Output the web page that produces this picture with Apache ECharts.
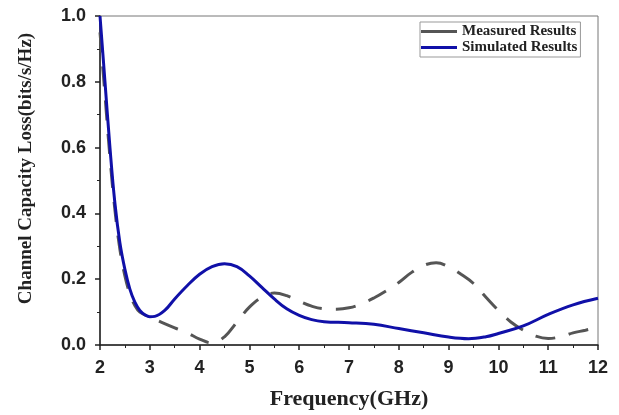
<!DOCTYPE html>
<html><head><meta charset="utf-8">
<script src="https://cdn.jsdelivr.net/npm/echarts@6/dist/echarts.min.js"></script>
<style>html,body{margin:0;padding:0;background:#fff}#c{width:619px;height:415px}</style>
</head><body><div id="c"></div>
<script>
const simFreq = [2.0,2.1,2.2,2.3,2.4,2.5,2.6,2.7,2.8,2.9,3.0,3.1,3.3,3.5,3.75,4.0,4.25,4.5,4.75,5.0,5.25,5.5,5.75,6.0,6.25,6.5,7.0,7.5,8.0,8.5,9.0,9.4,9.75,10.0,10.5,11.0,11.5,12.0];
const simVals = [1.0,0.80,0.60,0.43,0.31,0.23,0.17,0.13,0.105,0.092,0.086,0.087,0.105,0.14,0.18,0.215,0.238,0.247,0.238,0.21,0.175,0.14,0.11,0.09,0.077,0.071,0.068,0.063,0.05,0.037,0.024,0.019,0.025,0.035,0.058,0.093,0.122,0.142];
const measFreq = [2.0,2.1,2.2,2.3,2.4,2.5,2.6,2.7,2.8,3.0,3.25,3.5,3.75,4.0,4.25,4.5,4.75,5.0,5.25,5.5,5.75,6.0,6.25,6.5,6.75,7.0,7.25,7.5,7.75,8.0,8.25,8.5,8.75,9.0,9.25,9.5,9.75,10.0,10.25,10.5,10.75,11.0,11.25,11.5,11.75,12.0];
const measVals = [0.95,0.76,0.57,0.41,0.29,0.21,0.155,0.12,0.1,0.085,0.068,0.052,0.037,0.018,0.006,0.025,0.07,0.115,0.145,0.158,0.15,0.133,0.118,0.11,0.109,0.113,0.125,0.143,0.165,0.19,0.22,0.242,0.25,0.238,0.215,0.187,0.145,0.105,0.07,0.045,0.027,0.02,0.025,0.037,0.045,0.055];
const seriesNames = ['Measured Results','Simulated Results'];
const xTitle = 'Frequency(GHz)';
const yTitle = 'Channel Capacity Loss(bits/s/Hz)';

const zip = (a,b) => a.map((v,i)=>[v,b[i]]);
const chart = echarts.init(document.getElementById('c'));
const labelFont = {fontFamily:'Liberation Sans, Arial, sans-serif', fontWeight:'bold', fontSize:18, color:'#222'};
const serif = 'Liberation Serif, Times New Roman, serif';
chart.setOption({
  animation:false,
  grid:{left:100,right:21,top:16,bottom:66,show:true,borderColor:'#777',borderWidth:1},
  legend:{
    data:seriesNames,
    icon:'rect',
    orient:'vertical', left:420, top:22,
    itemWidth:36, itemHeight:3, itemGap:1,
    itemStyle:{borderWidth:0},
    lineStyle:{type:[100,0], width:3},
    borderColor:'#999', borderWidth:1, padding:[2,3,2,1],
    textStyle:{fontFamily:serif, fontWeight:'bold', fontSize:15, color:'#222'}
  },
  xAxis:{
    type:'value', min:2, max:12, interval:1,
    name:xTitle, nameLocation:'middle', nameGap:43,
    nameTextStyle:{fontFamily:serif, fontWeight:'bold', fontSize:22, color:'#222'},
    axisLine:{show:true,lineStyle:{color:'#222',width:1.5}},
    axisTick:{show:true,inside:false,length:5,lineStyle:{color:'#222',width:1.5}},
    minorTick:{show:true,splitNumber:2,length:3,lineStyle:{color:'#222',width:1}},
    axisLabel:{...labelFont, margin:14},
    splitLine:{show:false}
  },
  yAxis:{
    type:'value', min:0, max:1, interval:0.2,
    name:yTitle, nameLocation:'middle', nameGap:64,
    nameTextStyle:{fontFamily:serif, fontWeight:'bold', fontSize:19, color:'#222', padding:[0,0,0,24]},
    axisLine:{show:true,lineStyle:{color:'#222',width:1.5}},
    axisTick:{show:true,inside:false,length:5,lineStyle:{color:'#222',width:1.5}},
    minorTick:{show:true,splitNumber:2,length:3,lineStyle:{color:'#222',width:1}},
    axisLabel:{...labelFont, margin:14, formatter:v=>v.toFixed(1)},
    splitLine:{show:false}
  },
  series:[
    {name:seriesNames[0], type:'line', smooth:0.4, showSymbol:false, data:zip(measFreq,measVals),
     itemStyle:{color:'#555'}, lineStyle:{color:'#555',width:3,type:[20,14]}, z:2},
    {name:seriesNames[1], type:'line', smooth:0.4, showSymbol:false, data:zip(simFreq,simVals),
     itemStyle:{color:'#1010a8'}, lineStyle:{color:'#1010a8',width:3}, z:3}
  ]
});
</script></body></html>
